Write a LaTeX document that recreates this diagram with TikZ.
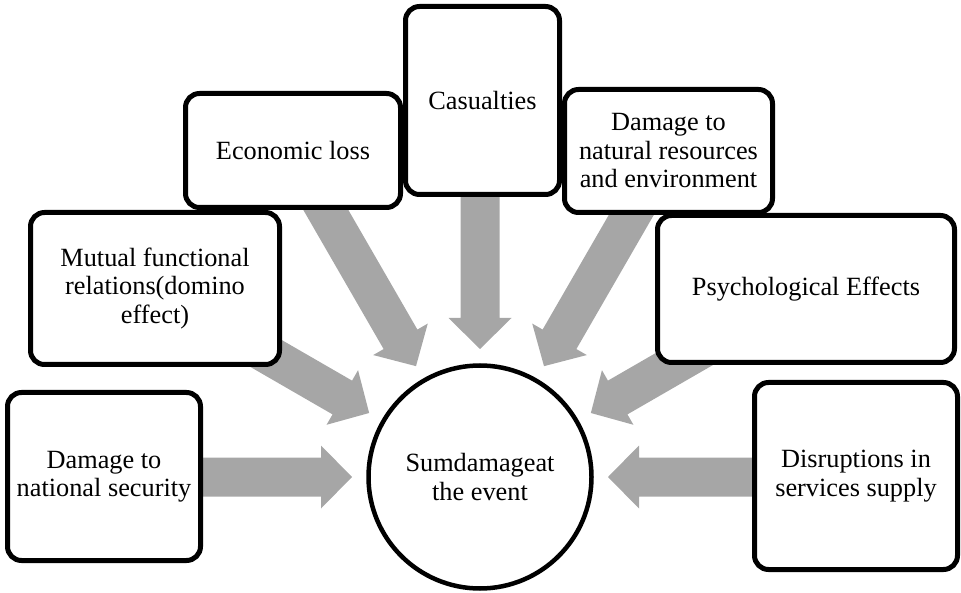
\documentclass[tikz,border=0pt]{standalone}
\usepackage{fontspec}
\setmainfont{Liberation Serif}
\definecolor{arrowgray}{RGB}{166,166,166}
\tikzset{
  box/.style={draw=black, line width=5pt, rounded corners=14pt, fill=white,
    align=center, inner sep=2pt, font=\fontsize{26.3}{28.5}\selectfont},
  hub/.style={circle, draw=black, line width=4.5pt, fill=white, align=center,
    inner sep=0pt, minimum size=223pt, font=\fontsize{26.3}{28.5}\selectfont},
  blockarrow/.style={fill=arrowgray, draw=none}
}
\newcommand{\radialarrow}[2]{%
  \begin{scope}[shift={(hub.center)}, rotate=#1]
    \fill[blockarrow] (#2,19.5) -- (159,19.5) -- (159,31.5) -- (128,0)
      -- (159,-31.5) -- (159,-19.5) -- (#2,-19.5) -- cycle;
  \end{scope}}
\begin{document}
\begin{tikzpicture}[x=1pt, y=-1pt]
\useasboundingbox (0,0) rectangle (961,593);
% hub first (for its name), arrows behind boxes
\node[hub] (hub) at (480,477) {Sumdamageat\\the event};
\radialarrow{180}{300}
\radialarrow{150}{300}
\radialarrow{120}{340}
\radialarrow{90}{300}
\radialarrow{60}{340}
\radialarrow{30}{300}
\radialarrow{0}{300}
% outer boxes
\node[box, minimum width=193pt, minimum height=168pt] (ns) at (104,476.5) {Damage to\\national security};
\node[box, minimum width=249pt, minimum height=152pt] (mf) at (155,288.5) {Mutual functional\\relations(domino\\effect)};
\node[box, minimum width=215pt, minimum height=114pt] (el) at (293,150.5) {Economic loss};
\node[box, minimum width=154pt, minimum height=188pt] (cas) at (482.5,100.5) {Casualties};
\node[box, minimum width=208pt, minimum height=123pt] (nr) at (668.5,151) {Damage to\\natural resources\\and environment};
\node[box, minimum width=297pt, minimum height=147pt] (pe) at (806,289) {Psychological Effects};
\node[box, minimum width=203pt, minimum height=187pt] (ds) at (856,476) {Disruptions in\\services supply};
\end{tikzpicture}
\end{document}
